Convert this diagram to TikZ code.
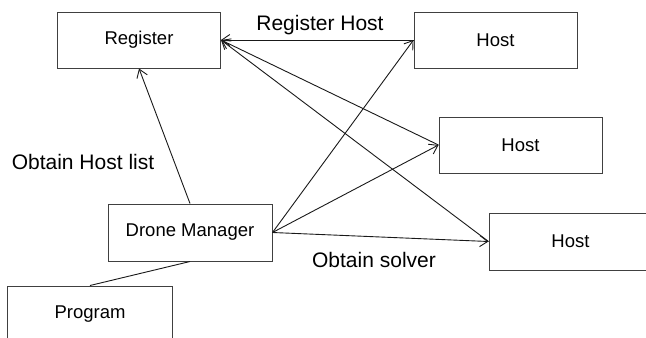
\documentclass[tikz,border=0pt]{standalone}
\usepackage{fontspec}
\setmainfont{Liberation Sans}
\usetikzlibrary{arrows.meta}
\begin{document}
\begin{tikzpicture}[x=1bp,y=-1bp,
  box/.style={draw=black!75,line width=1bp,rectangle,inner sep=0pt,
    minimum width=163bp,minimum height=56bp,font=\fontsize{18.5bp}{22bp}\selectfont},
  lbl/.style={font=\fontsize{21bp}{25bp}\selectfont,inner sep=0pt},
  conn/.style={draw=black!90,line width=0.9bp},
  arr/.style={conn,-{Straight Barb[length=8bp,width=11bp,line width=0.9bp]}}]
\useasboundingbox (0,0) rectangle (646,337);
\clip (0,0) rectangle (646,337);
\node[box] (reg) at (139,40) {Register};
\node[box] (h1) at (495.5,40) {Host};
\node[box] (h2) at (520.5,145) {Host};
\node[box,minimum height=57bp] (h3) at (570.5,241.5) {Host};
\node[box,minimum width=164bp,minimum height=57bp] (dm) at (190,232.5) {Drone Manager};
\node[box,minimum width=164bp] (prog) at (90,314) {Program};
\node[lbl] (lrh) at (320,25) {Register Host};
\node[lbl] (lohl) at (83,162) {Obtain Host list};
\node[lbl] (los) at (374,260) {Obtain solver};
\draw[arr] (h1.west) -- (reg.east);
\draw[arr] (h2.west) -- (reg.east);
\draw[arr] (h3.west) -- (reg.east);
\draw[arr] (dm.east) -- (h1.west);
\draw[arr] (dm.east) -- (h2.west);
\draw[arr] (dm.east) -- (h3.west);
\draw[arr] (dm.north) -- (reg.south);
\draw[conn] (prog.north) -- (dm.south);
\end{tikzpicture}
\end{document}
